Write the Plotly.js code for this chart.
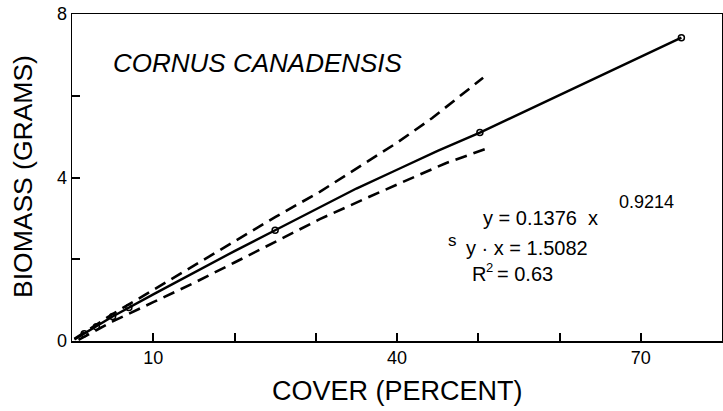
<!DOCTYPE html>
<html>
<head>
<meta charset="utf-8">
<script src="https://cdn.plot.ly/plotly-3.0.1.min.js"></script>
<style>
  html, body { margin: 0; padding: 0; background: #fff; }
  #chart { width: 723px; height: 411px; }
</style>
</head>
<body>
<div id="chart"></div>
<script>
// Fitted curve
const fitX = [0.3, 5, 10, 15, 20, 25, 30.5, 35, 40, 45, 50.2, 75];
const fitY = [0.04, 0.6, 1.14, 1.68, 2.2, 2.71, 3.27, 3.73, 4.19, 4.65, 5.10, 7.42];
// Upper confidence band (dashed)
const upperX = [0.3, 5, 10, 15, 20, 25, 30.5, 35.4, 40, 44.3, 50.6];
const upperY = [0.05, 0.66, 1.25, 1.85, 2.45, 3.03, 3.65, 4.26, 4.85, 5.45, 6.44];
// Lower confidence band (dashed)
const lowerX = [0.8, 5, 10, 15, 20, 25, 30.5, 36.6, 42, 46, 51.2];
const lowerY = [0.03, 0.48, 0.95, 1.42, 1.92, 2.43, 2.98, 3.53, 4.0, 4.35, 4.72];
// Plotted class means (markers)
const pointX = [1.5, 3, 5, 7, 25, 50.2, 75];
const pointY = [0.18, 0.35, 0.6, 0.82, 2.71, 5.10, 7.42];
// Tick labels
const xTickVals = [10, 20, 30, 40, 50, 60, 70];
const xTickText = ['10', '', '', '40', '', '', '70'];
const yTickVals = [0, 2, 4, 6, 8];
const yTickText = ['0', '', '4', '', '8'];

const FONT = 'Liberation Sans, Arial, sans-serif';
const L = 72, R = 1, T = 14, B = 70, W = 723, H = 411;
const pw = W - L - R, ph = H - T - B;
const px = v => (v - L) / pw;
const py = v => (H - B - v) / ph;

const traces = [
  { x: upperX, y: upperY, mode: 'lines', line: { color: '#000', width: 2.6, dash: '12px,7px' }, hoverinfo: 'skip' },
  { x: lowerX, y: lowerY, mode: 'lines', line: { color: '#000', width: 2.6, dash: '12px,7px' }, hoverinfo: 'skip' },
  { x: fitX, y: fitY, mode: 'lines', line: { color: '#000', width: 2.4 }, hoverinfo: 'skip' },
  { x: pointX, y: pointY, mode: 'markers', marker: { symbol: 'circle-open', size: 6, color: '#000', line: { width: 1.5, color: '#000' } }, hoverinfo: 'skip' }
];

function ann(text, x, y, size, xanchor, extra) {
  return Object.assign({
    text: text, xref: 'paper', yref: 'paper', x: px(x), y: py(y),
    xanchor: xanchor || 'left', yanchor: 'middle', showarrow: false, borderpad: 0,
    font: { family: FONT, size: size, color: '#000' }
  }, extra || {});
}

const layout = {
  width: W, height: H,
  margin: { l: L, r: R, t: T, b: B, pad: 0 },
  paper_bgcolor: '#fff', plot_bgcolor: '#fff',
  showlegend: false,
  font: { family: FONT, color: '#000' },
  xaxis: {
    range: [0, 80], showgrid: false, zeroline: false,
    showline: true, linecolor: '#000', linewidth: 1.5, mirror: true,
    ticks: 'inside', ticklen: 8, tickwidth: 2, tickcolor: '#000',
    tickvals: xTickVals, ticktext: xTickText,
    tickfont: { family: FONT, size: 18, color: '#000' }
  },
  yaxis: {
    range: [0, 8], showgrid: false, zeroline: false,
    showline: true, linecolor: '#000', linewidth: 1.5, mirror: true,
    ticks: 'inside', ticklen: 8, tickwidth: 2, tickcolor: '#000',
    tickvals: yTickVals, ticktext: yTickText,
    tickfont: { family: FONT, size: 18, color: '#000' }
  },
  annotations: [
    ann('COVER (PERCENT)', 397, 391, 27, 'center'),
    ann('BIOMASS (GRAMS)', 23, 177, 26.5, 'center', { textangle: -90 }),
    ann('<i>CORNUS CANADENSIS</i>', 258, 63, 26, 'center'),
    ann('y = 0.1376  x', 482, 218, 20, 'left'),
    ann('0.9214', 675, 202, 18, 'right'),
    ann('s', 447, 240, 17, 'left'),
    ann('y · x = 1.5082', 465, 248, 20, 'left'),
    ann('R', 471, 274, 20, 'left'),
    ann('2', 485, 267, 13, 'left'),
    ann('= 0.63', 496, 274, 20, 'left')
  ]
};

Plotly.newPlot('chart', traces, layout, { staticPlot: true, displayModeBar: false });
</script>
</body>
</html>
